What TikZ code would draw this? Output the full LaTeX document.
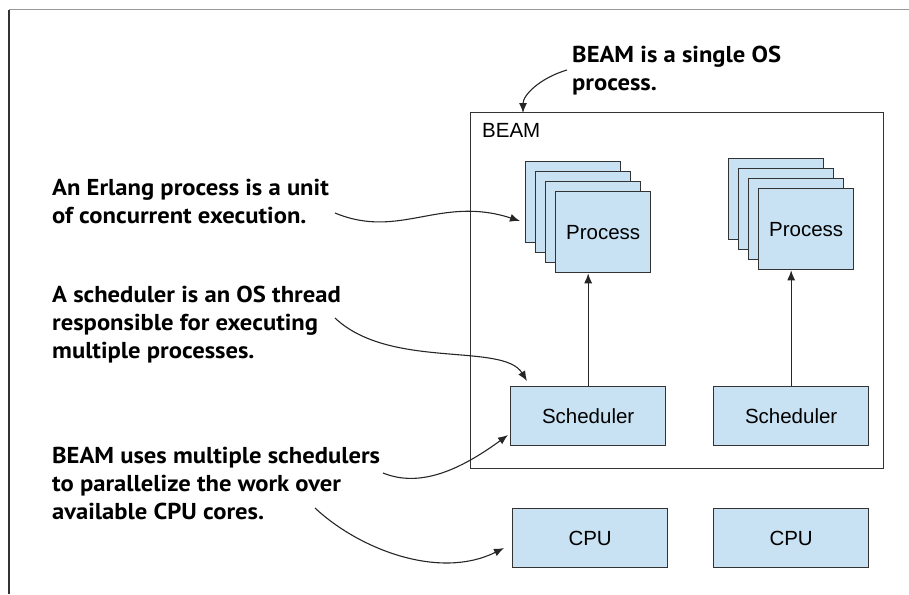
\documentclass[tikz,border=0pt]{standalone}
\usepackage{fontspec}
\setmainfont{Liberation Sans}
\newfontfamily\notefont[FakeStretch=1.07]{PT Sans}
\usetikzlibrary{arrows.meta}
\definecolor{boxfill}{RGB}{200,226,243}
\definecolor{boxline}{RGB}{51,51,51}
\tikzset{
  unitbox/.style={draw=boxline, line width=1.3pt, fill=boxfill, inner sep=0pt,
    font=\fontsize{20.5}{24}\selectfont},
  card/.style={unitbox, minimum width=95pt, minimum height=81pt, anchor=north west},
  wide/.style={unitbox, minimum width=155pt, minimum height=59pt, anchor=north west},
  % anchored at the baseline of the last line
  note/.style={anchor=base west, align=left, inner sep=0pt,
    font=\notefont\bfseries\fontsize{23}{28}\selectfont},
  callout/.style={draw=black!85, line width=1.1pt, -{Latex[length=10pt,width=8pt]}},
  link/.style={draw=black!85, line width=1.1pt, -{Latex[length=10pt,width=8pt]}}
}
\begin{document}
\begin{tikzpicture}[x=1pt,y=-1pt]
\useasboundingbox (0,0) rectangle (909,594);
% page frame
\draw[black!40, line width=1pt] (9,10) -- (909,10);
\draw[black!80, line width=1.2pt] (9,10) -- (9,594);

% BEAM container
\node[draw=boxline, line width=1.3pt, minimum width=413pt, minimum height=356pt,
  anchor=north west, inner sep=0pt] (beam) at (470,112) {};
\node[anchor=north west, inner sep=0pt, font=\fontsize{20.5}{24}\selectfont] (beamlabel) at (482,123) {BEAM};

% process stacks
\foreach \i in {0,1,2} {
  \node[card] (lp\i) at (525+10*\i,161+10*\i) {};
  \node[card] (rp\i) at (728+10*\i,158+10*\i) {};
}
\node[card] (lproc) at (555,191) {Process};
\node[card] (rproc) at (758,188) {Process};

% schedulers and CPUs
\node[wide] (lsched) at (510,386) {Scheduler};
\node[wide] (rsched) at (713,386) {Scheduler};
\node[wide] (lcpu) at (512,508) {CPU};
\node[wide] (rcpu) at (713,508) {CPU};

\draw[link] (lsched.north) -- (lsched.north |- lproc.south);
\draw[link] (rsched.north) -- (rsched.north |- rproc.south);

% annotations
\node[note] (nbeam) at (572,90) {BEAM is a single OS\\process.};
\node[note] (nproc) at (52,223) {An Erlang process is a unit\\of concurrent execution.};
\node[note] (nsched) at (52,358) {A scheduler is an OS thread\\responsible for executing\\multiple processes.};
\node[note] (ncpu) at (52,519) {BEAM uses multiple schedulers\\to parallelize the work over\\available CPU cores.};

% callout end points
\coordinate (sbeam) at (567,70);
\coordinate (tbeam) at (523,113);
\coordinate (sproc) at (335,213);
\coordinate (tproc) at (520,221);
\coordinate (ssched) at (335,318);
\coordinate (tsched) at (527,381);
\coordinate (smulti) at (383,473);
\coordinate (tmulti) at (508,435);
\coordinate (scpu) at (315,508);
\coordinate (tcpu) at (504,548);

\draw[callout] (sbeam) .. controls (540,78) and (523,95) .. (tbeam);
\draw[callout] (sproc) .. controls (400,240) and (440,195) .. (tproc);
\draw[callout] (ssched) .. controls (390,370) and (503,342) .. (tsched);
\draw[callout] (smulti) .. controls (420,488) and (460,470) .. (tmulti);
\draw[callout] (scpu) .. controls (360,550) and (440,580) .. (tcpu);
\end{tikzpicture}
\end{document}
